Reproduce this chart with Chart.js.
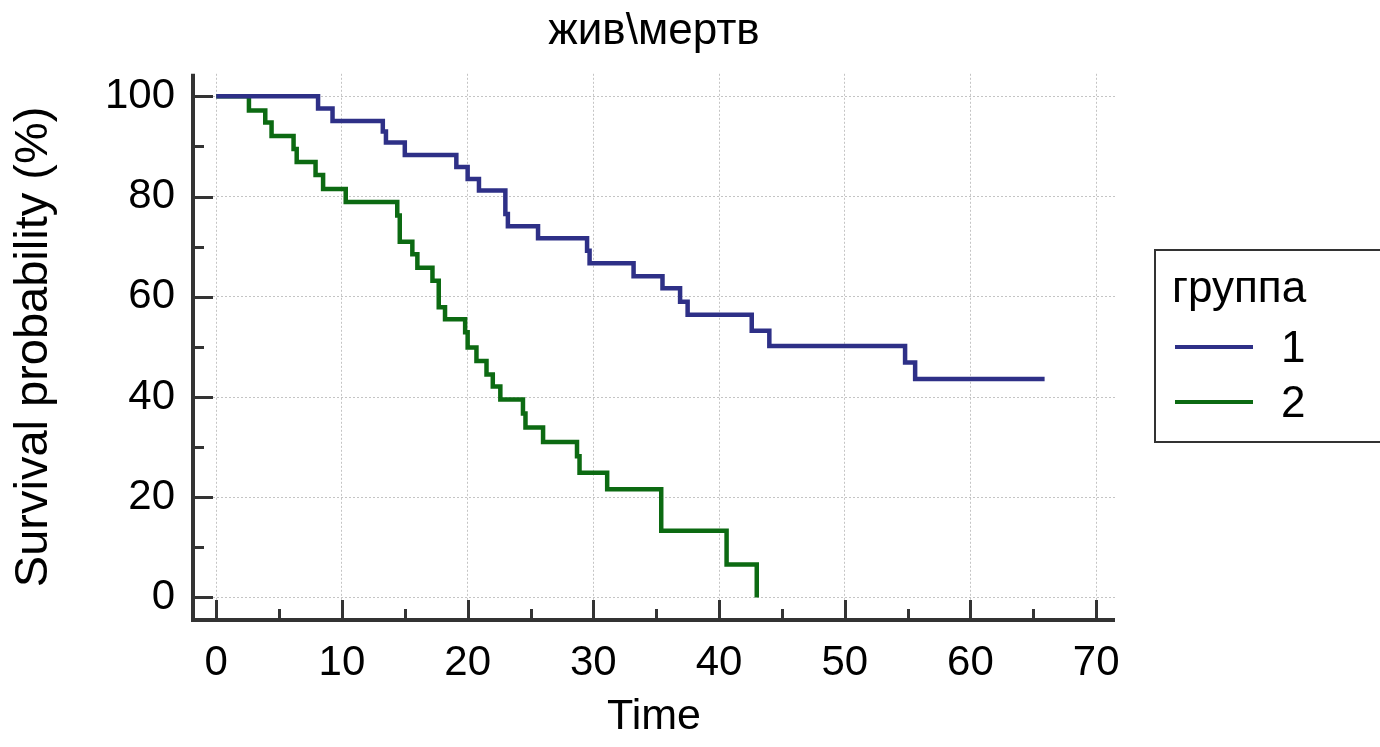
<!DOCTYPE html>
<html><head><meta charset="utf-8">
<script src="https://cdn.jsdelivr.net/npm/chart.js@4.4.1/dist/chart.umd.min.js"></script>
<style>html,body{margin:0;padding:0;background:#fff;}</style>
</head><body>
<canvas id="c" width="1380" height="747"></canvas>
<script>
const chartTitle = 'жив\\мертв';
const xTitle = 'Time';
const yTitle = 'Survival probability (%)';
const legendTitle = 'группа';
const seriesNames = ['1', '2'];

const times1 = [0, 8.1, 9.25, 13.25, 13.5, 15.0, 19.1, 20.0, 20.9, 23.0, 23.2, 25.6, 29.5, 29.7, 33.2, 35.5, 36.9, 37.5, 42.6, 44.0, 54.8, 55.6, 65.9];
const surv1  = [100, 97.6, 95.1, 93.0, 90.8, 88.3, 85.9, 83.5, 81.2, 76.5, 74.1, 71.7, 69.2, 66.7, 64.1, 61.7, 59.0, 56.4, 53.2, 50.2, 46.9, 43.6, 43.6];

const times2 = [0, 2.6, 3.9, 4.4, 6.15, 6.4, 7.9, 8.5, 10.3, 14.4, 14.6, 15.6, 16.0, 17.2, 17.7, 18.2, 19.8, 20.0, 20.7, 21.5, 22.0, 22.6, 24.4, 24.6, 26.0, 28.7, 28.9, 31.1, 35.4, 40.6, 43.0];
const surv2  = [100, 97.2, 94.8, 92.1, 89.5, 86.9, 84.3, 81.5, 78.9, 76.2, 71.0, 68.5, 65.8, 63.2, 57.9, 55.5, 52.9, 49.9, 47.2, 44.5, 42.1, 39.5, 36.7, 33.9, 31.0, 28.2, 24.9, 21.6, 13.3, 6.6, 0];

const xTicks = [0, 5, 10, 15, 20, 25, 30, 35, 40, 45, 50, 55, 60, 65, 70];
const yTicks = [0, 10, 20, 30, 40, 50, 60, 70, 80, 90, 100];

const colors = ['#2e3087', '#0c6a12'];
const FONT = '"Liberation Sans", Arial, sans-serif';
Chart.defaults.font.family = FONT;
Chart.defaults.color = '#000';

const toPts = (t, s) => t.map((v, i) => ({x: v, y: s[i]}));

const axesPlugin = {
  id: 'axesPlugin',
  afterDatasetsDraw(chart) {
    const {ctx, chartArea: ca, scales: {x, y}} = chart;
    ctx.save();
    ctx.strokeStyle = '#333';
    ctx.lineCap = 'butt';
    ctx.lineWidth = 3;
    xTicks.forEach(v => {
      const px = Math.round(x.getPixelForValue(v)) + 0.5;
      const len = v % 10 === 0 ? 20 : 11;
      ctx.beginPath(); ctx.moveTo(px, ca.bottom); ctx.lineTo(px, ca.bottom - len); ctx.stroke();
    });
    yTicks.forEach(v => {
      const py = Math.round(y.getPixelForValue(v)) + 0.5;
      const len = v % 20 === 0 ? 20 : 11;
      ctx.beginPath(); ctx.moveTo(ca.left, py); ctx.lineTo(ca.left + len, py); ctx.stroke();
    });
    ctx.lineWidth = 4;
    ctx.beginPath(); ctx.moveTo(ca.left, ca.top); ctx.lineTo(ca.left, ca.bottom + 2); ctx.stroke();
    ctx.beginPath(); ctx.moveTo(ca.left - 2, ca.bottom); ctx.lineTo(ca.right, ca.bottom); ctx.stroke();
    ctx.restore();
  },
  afterDraw(chart) {
    const {ctx} = chart;
    ctx.save();
    ctx.strokeStyle = '#333';
    ctx.lineWidth = 2;
    ctx.strokeRect(1155, 250, 240, 192);
    ctx.fillStyle = '#000';
    ctx.font = '44px ' + FONT;
    ctx.textAlign = 'left';
    ctx.textBaseline = 'alphabetic';
    ctx.fillText(legendTitle, 1172, 302);
    const rows = [347, 402];
    chart.data.datasets.forEach((ds, i) => {
      ctx.strokeStyle = ds.borderColor;
      ctx.lineWidth = 4;
      ctx.beginPath(); ctx.moveTo(1175, rows[i]); ctx.lineTo(1253, rows[i]); ctx.stroke();
      ctx.fillText(ds.label, 1281, rows[i] + 15);
    });
    ctx.restore();
  }
};

new Chart(document.getElementById('c'), {
  type: 'line',
  data: {
    datasets: [
      {label: seriesNames[0], data: toPts(times1, surv1), borderColor: colors[0], borderWidth: 4.5, pointRadius: 0, stepped: 'before', fill: false},
      {label: seriesNames[1], data: toPts(times2, surv2), borderColor: colors[1], borderWidth: 4.5, pointRadius: 0, stepped: 'before', fill: false}
    ]
  },
  options: {
    responsive: false,
    animation: false,
    layout: {padding: {left: 0, right: 265, top: 0, bottom: 0}},
    plugins: {
      legend: {display: false},
      tooltip: {enabled: false},
      title: {display: true, text: chartTitle, fullSize: false, font: {size: 44, weight: 'normal'}, padding: {top: 5, bottom: 16}}
    },
    scales: {
      x: {
        type: 'linear', min: -1.85, max: 71.5,
        afterBuildTicks: s => { s.ticks = xTicks.map(v => ({value: v})); },
        afterFit: s => { s.height = 127; },
        ticks: {autoSkip: false, maxRotation: 0, padding: 18, font: {size: 42}, callback: v => (v % 10 === 0 ? String(v) : '')},
        grid: {drawTicks: false, lineWidth: 1, color: ctx => (ctx.tick && ctx.tick.value % 10 === 0 ? '#c4c4c4' : 'rgba(0,0,0,0)')},
        border: {display: false, dash: [2, 2]},
        title: {display: true, text: xTitle, font: {size: 43}, padding: {top: 0, bottom: 4}}
      },
      y: {
        type: 'linear', min: -4.5, max: 104.5,
        afterBuildTicks: s => { s.ticks = yTicks.map(v => ({value: v})); },
        afterFit: s => { s.width = 193; },
        ticks: {autoSkip: false, padding: 18, font: {size: 42}, callback: v => (v % 20 === 0 ? String(v) : '')},
        grid: {drawTicks: false, lineWidth: 1, color: ctx => (ctx.tick && ctx.tick.value % 20 === 0 ? '#c4c4c4' : 'rgba(0,0,0,0)')},
        border: {display: false, dash: [2, 2]},
        title: {display: true, text: yTitle, font: {size: 47}, padding: {top: 6, bottom: 0}}
      }
    }
  },
  plugins: [axesPlugin]
});
</script>
</body></html>
